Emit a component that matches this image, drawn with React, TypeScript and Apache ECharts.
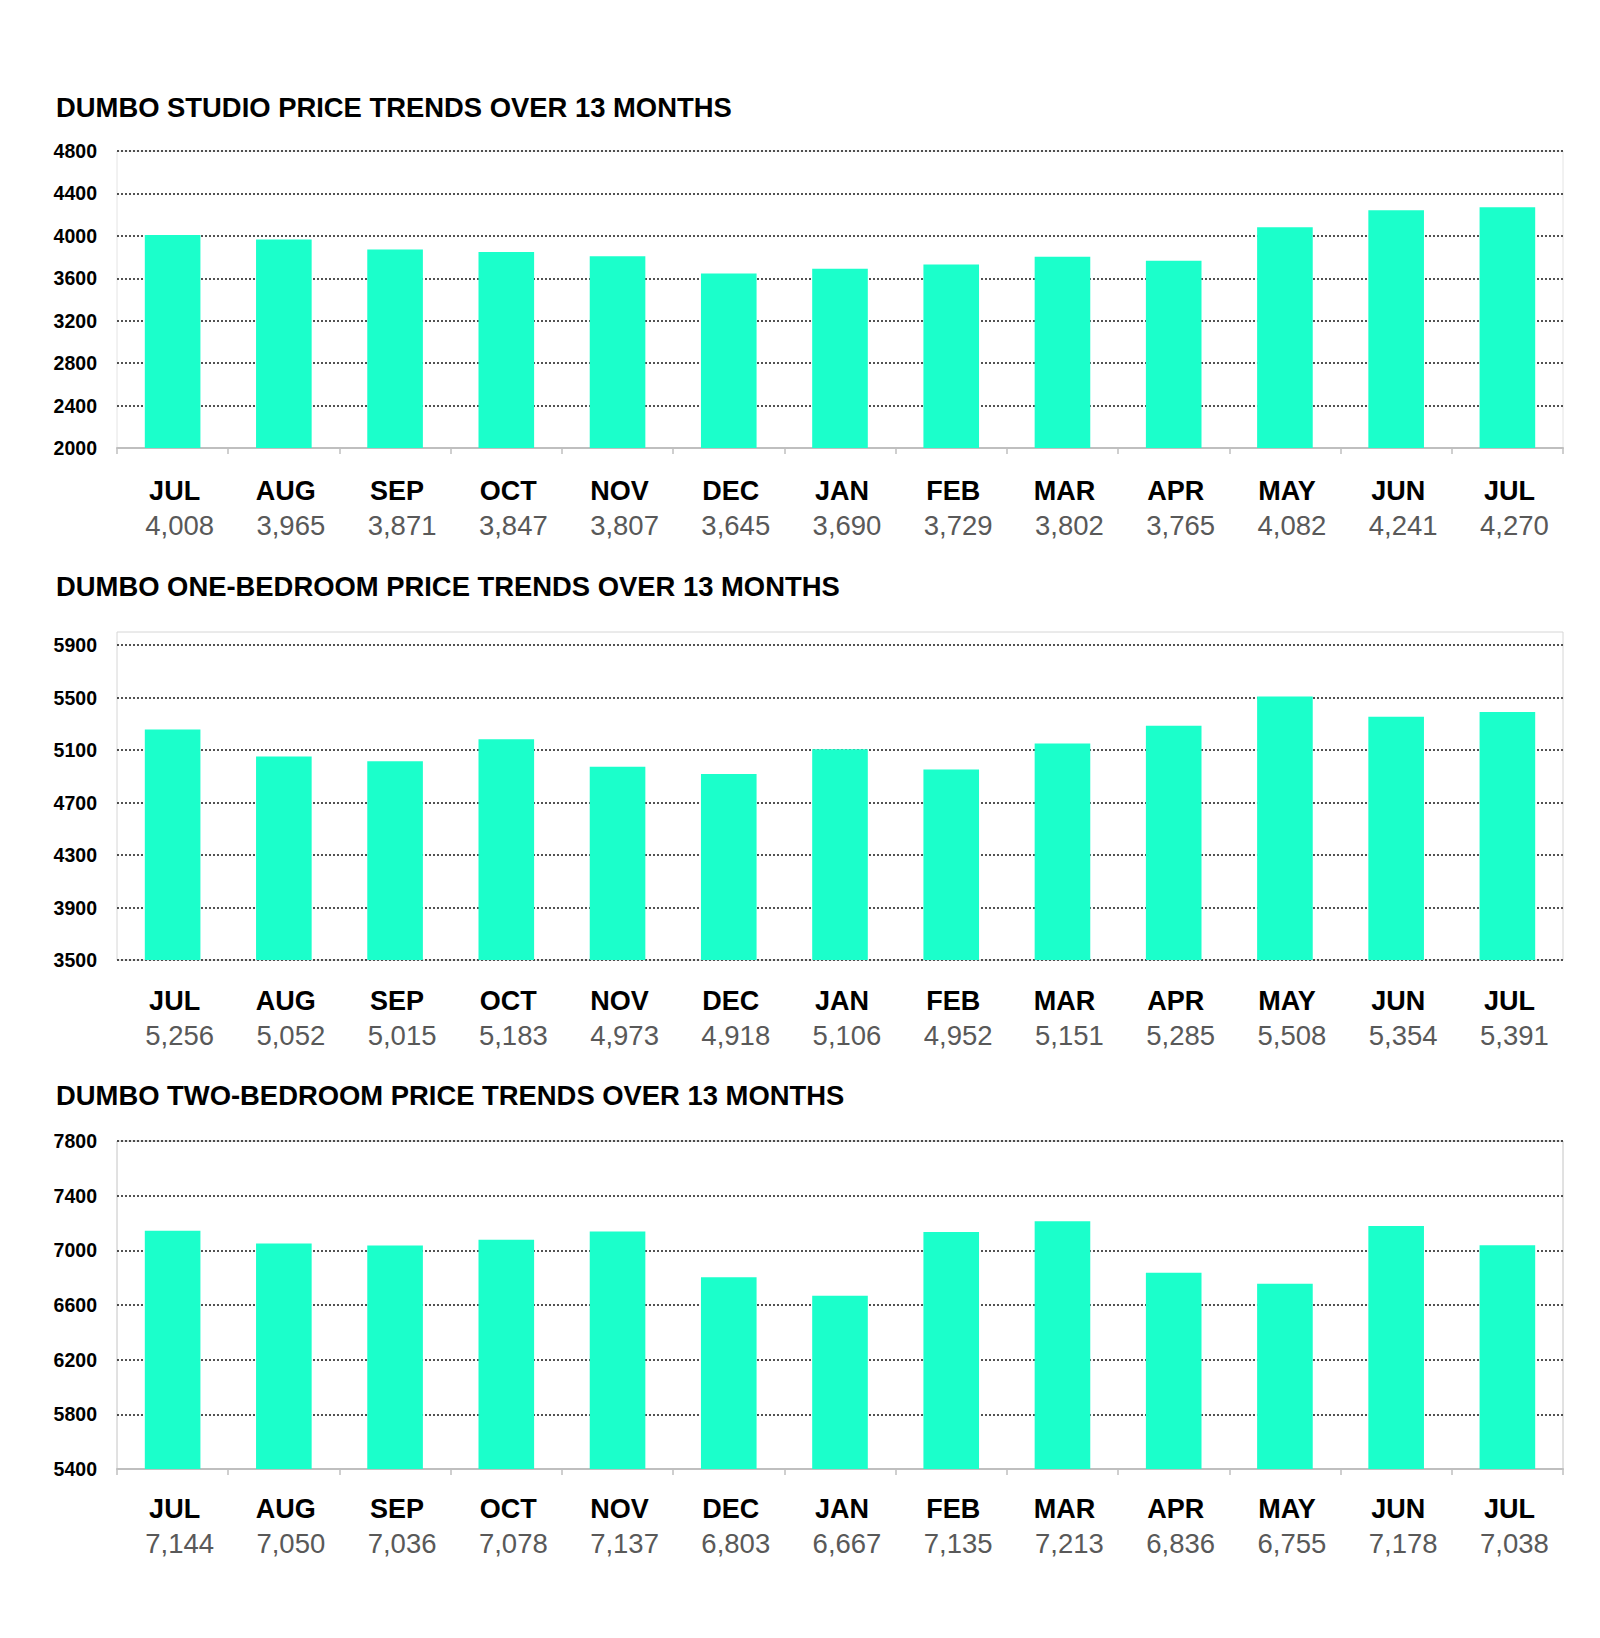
import React, { useEffect, useRef } from "react";
import * as echarts from "echarts";

const months = ["JUL", "AUG", "SEP", "OCT", "NOV", "DEC", "JAN", "FEB", "MAR", "APR", "MAY", "JUN", "JUL"];
const studioValues = [4008, 3965, 3871, 3847, 3807, 3645, 3690, 3729, 3802, 3765, 4082, 4241, 4270];
const oneBedValues = [5256, 5052, 5015, 5183, 4973, 4918, 5106, 4952, 5151, 5285, 5508, 5354, 5391];
const twoBedValues = [7144, 7050, 7036, 7078, 7137, 6803, 6667, 7135, 7213, 6836, 6755, 7178, 7038];
const titles = [
  "DUMBO STUDIO PRICE TRENDS OVER 13 MONTHS",
  "DUMBO ONE-BEDROOM PRICE TRENDS OVER 13 MONTHS",
  "DUMBO TWO-BEDROOM PRICE TRENDS OVER 13 MONTHS",
];
const yMins = [2000, 3500, 5400];
const yMaxs = [4800, 6000, 7800];
const yInterval = 400;

const BAR = "#1bffcb";
const FONT = "'Liberation Sans', Arial, sans-serif";

export default function App() {
  const ref = useRef<HTMLDivElement>(null);
  useEffect(() => {
    document.body.style.margin = "0";
    if (!ref.current) return;
    const chart = echarts.init(ref.current, null, { renderer: "svg" });
    const allValues = [studioValues, oneBedValues, twoBedValues];
    const grids = [
      { left: 117, right: 37, top: 151, height: 297, borderColor: "#e4e4e4" },
      { left: 117, right: 37, top: 632, height: 328, borderColor: "#d6d6d6" },
      { left: 117, right: 37, top: 1141, height: 328, borderColor: "#c4c4c4" },
    ];
    const titleTops = [94, 573, 1082];
    const labelMargins = [26, 24, 23];
    const showAxisLine = [true, false, true];

    const option: any = {
      animation: false,
      backgroundColor: "#ffffff",
      title: titles.map((t, i) => ({
        text: t,
        left: 56,
        top: titleTops[i],
        padding: 0,
        textStyle: { fontFamily: FONT, fontSize: 27.4, fontWeight: "bold", color: "#000" },
      })),
      grid: grids.map((g) => ({
        left: g.left,
        right: g.right,
        top: g.top,
        height: g.height,
        show: true,
        borderColor: g.borderColor,
        borderWidth: 1,
        containLabel: false,
      })),
      xAxis: allValues.map((vals, i) => ({
        type: "category",
        gridIndex: i,
        data: months,
        boundaryGap: true,
        axisLine: { show: showAxisLine[i], lineStyle: { color: "#bfbfbf", width: 2 } },
        axisTick: { show: showAxisLine[i], length: 6, lineStyle: { color: "#bfbfbf", width: 1.5 } },
        splitLine: { show: false },
        axisLabel: {
          interval: 0,
          margin: labelMargins[i],
          formatter: (value: string, idx: number) =>
            `{m|${value}}\n{v|${vals[idx].toLocaleString("en-US")}}`,
          rich: {
            m: { fontFamily: FONT, fontSize: 27, fontWeight: "bold", color: "#000", lineHeight: 34, padding: [0, 0, 0, 4] },
            v: { fontFamily: FONT, fontSize: 27.5, color: "#595959", lineHeight: 34, padding: [0, 0, 0, 14] },
          },
        },
      })),
      yAxis: allValues.map((_, i) => ({
        type: "value",
        gridIndex: i,
        min: yMins[i],
        max: yMaxs[i],
        interval: yInterval,
        axisLine: { show: false },
        axisTick: { show: false },
        axisLabel: {
          margin: 20,
          showMaxLabel: i !== 1,
          formatter: (v: number) => String(v),
          fontFamily: FONT,
          fontSize: 19.5,
          fontWeight: "bold",
          color: "#000",
        },
        splitLine: {
          show: true,
          showMaxLine: i !== 1,
          showMinLine: i === 1,
          lineStyle: { color: "#1a1a1a", width: 1.5, type: [2, 2] },
        },
      })),
      series: allValues.map((vals, i) => ({
        type: "bar",
        xAxisIndex: i,
        yAxisIndex: i,
        data: vals,
        barWidth: "50%",
        itemStyle: { color: BAR },
        z: 3,
      })),
    };
    chart.setOption(option);
    return () => chart.dispose();
  }, []);
  return <div ref={ref} style={{ width: 1600, height: 1638 }} />;
}
